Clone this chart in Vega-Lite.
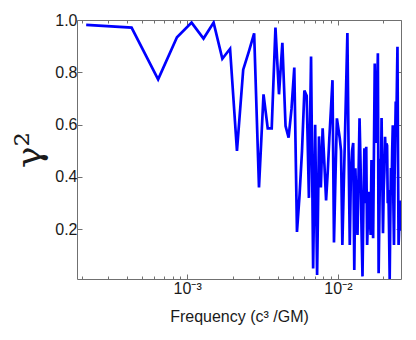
{
  "$schema": "https://vega.github.io/schema/vega-lite/v6.json",
  "width": 324,
  "height": 259,
  "autosize": "none",
  "padding": {"left": 77, "top": 20, "right": 15, "bottom": 61},
  "background": "white",
  "config": {
    "view": {"stroke": null},
    "axis": {
      "labelFont": "Liberation Sans",
      "titleFont": "Liberation Sans",
      "labelColor": "#1a1a1a",
      "titleColor": "#1a1a1a",
      "domainColor": "#707070",
      "tickColor": "#707070",
      "grid": false
    }
  },
  "data": {
    "values": [
      {"f": 0.000214, "g": 0.981}, {"f": 0.000428, "g": 0.971}, {"f": 0.000642, "g": 0.773},
      {"f": 0.000856, "g": 0.934}, {"f": 0.00107, "g": 0.99}, {"f": 0.001284, "g": 0.929},
      {"f": 0.001498, "g": 0.99}, {"f": 0.001712, "g": 0.852}, {"f": 0.001926, "g": 0.89},
      {"f": 0.00214, "g": 0.5}, {"f": 0.002354, "g": 0.81}, {"f": 0.002568, "g": 0.88},
      {"f": 0.002782, "g": 0.949}, {"f": 0.002996, "g": 0.36}, {"f": 0.00321, "g": 0.716},
      {"f": 0.003424, "g": 0.586}, {"f": 0.003638, "g": 0.586}, {"f": 0.003852, "g": 0.971},
      {"f": 0.004066, "g": 0.716}, {"f": 0.00428, "g": 0.913}, {"f": 0.004494, "g": 0.595},
      {"f": 0.004708, "g": 0.55}, {"f": 0.004922, "g": 0.66}, {"f": 0.005136, "g": 0.818},
      {"f": 0.00535, "g": 0.19}, {"f": 0.005564, "g": 0.33}, {"f": 0.005778, "g": 0.5},
      {"f": 0.005992, "g": 0.73}, {"f": 0.006206, "g": 0.71}, {"f": 0.00642, "g": 0.32},
      {"f": 0.006634, "g": 0.86}, {"f": 0.006848, "g": 0.05}, {"f": 0.007062, "g": 0.6},
      {"f": 0.007276, "g": 0.025}, {"f": 0.00749, "g": 0.555}, {"f": 0.007704, "g": 0.36},
      {"f": 0.007918, "g": 0.586}, {"f": 0.008132, "g": 0.45}, {"f": 0.008346, "g": 0.31},
      {"f": 0.00856, "g": 0.42}, {"f": 0.008774, "g": 0.55}, {"f": 0.008988, "g": 0.66},
      {"f": 0.009202, "g": 0.77}, {"f": 0.009416, "g": 0.15}, {"f": 0.00963, "g": 0.4},
      {"f": 0.009844, "g": 0.624}, {"f": 0.010058, "g": 0.586}, {"f": 0.010272, "g": 0.55},
      {"f": 0.010486, "g": 0.5}, {"f": 0.0107, "g": 0.14}, {"f": 0.010914, "g": 0.35},
      {"f": 0.011128, "g": 0.55}, {"f": 0.011342, "g": 0.75}, {"f": 0.011556, "g": 0.95},
      {"f": 0.01177, "g": 0.5}, {"f": 0.011984, "g": 0.14}, {"f": 0.012198, "g": 0.42},
      {"f": 0.012412, "g": 0.5}, {"f": 0.012626, "g": 0.53}, {"f": 0.01284, "g": 0.044},
      {"f": 0.013054, "g": 0.433}, {"f": 0.013268, "g": 0.3}, {"f": 0.013482, "g": 0.178},
      {"f": 0.013696, "g": 0.4}, {"f": 0.01391, "g": 0.624}, {"f": 0.014124, "g": 0.45},
      {"f": 0.014338, "g": 0.2}, {"f": 0.014552, "g": 0.02}, {"f": 0.014766, "g": 0.3},
      {"f": 0.01498, "g": 0.51}, {"f": 0.015194, "g": 0.3}, {"f": 0.015408, "g": 0.515},
      {"f": 0.015622, "g": 0.14}, {"f": 0.015836, "g": 0.25}, {"f": 0.01605, "g": 0.343},
      {"f": 0.016264, "g": 0.26}, {"f": 0.016478, "g": 0.178}, {"f": 0.016692, "g": 0.465},
      {"f": 0.016906, "g": 0.3}, {"f": 0.01712, "g": 0.166}, {"f": 0.017334, "g": 0.5},
      {"f": 0.017548, "g": 0.834}, {"f": 0.017762, "g": 0.6}, {"f": 0.017976, "g": 0.53},
      {"f": 0.01819, "g": 0.7}, {"f": 0.018404, "g": 0.873}, {"f": 0.018618, "g": 0.032},
      {"f": 0.018832, "g": 0.25}, {"f": 0.019046, "g": 0.47}, {"f": 0.01926, "g": 0.35},
      {"f": 0.019474, "g": 0.625}, {"f": 0.019688, "g": 0.4}, {"f": 0.019902, "g": 0.185},
      {"f": 0.020116, "g": 0.35}, {"f": 0.02033, "g": 0.42}, {"f": 0.020544, "g": 0.554},
      {"f": 0.020758, "g": 0.48}, {"f": 0.020972, "g": 0.528}, {"f": 0.021186, "g": 0.52},
      {"f": 0.0214, "g": 0.3}, {"f": 0.021614, "g": 0.35}, {"f": 0.021828, "g": 0.2},
      {"f": 0.022042, "g": 0.01}, {"f": 0.022256, "g": 0.25}, {"f": 0.02247, "g": 0.434},
      {"f": 0.022684, "g": 0.35}, {"f": 0.022898, "g": 0.5}, {"f": 0.023112, "g": 0.598},
      {"f": 0.023326, "g": 0.3}, {"f": 0.02354, "g": 0.14}, {"f": 0.023754, "g": 0.4},
      {"f": 0.023968, "g": 0.55}, {"f": 0.024182, "g": 0.688}, {"f": 0.024396, "g": 0.6},
      {"f": 0.02461, "g": 0.75}, {"f": 0.024824, "g": 0.898}, {"f": 0.025038, "g": 0.45},
      {"f": 0.025252, "g": 0.14}, {"f": 0.025466, "g": 0.2}, {"f": 0.02568, "g": 0.2},
      {"f": 0.025894, "g": 0.31}
    ]
  },
  "layer": [
    {
      "mark": {"type": "line", "color": "#0000ff", "strokeWidth": 2.7, "clip": true},
      "encoding": {
        "x": {
          "field": "f", "type": "quantitative",
          "scale": {"type": "log", "domain": [0.000186, 0.0262], "nice": false},
          "axis": {
            "orient": "bottom", "values": [0.001, 0.01], "tickSize": -5,
            "labelExpr": "datum.value < 0.005 ? '10⁻³' : '10⁻²'",
            "labelFontSize": 16, "labelPadding": 6,
            "title": "Frequency (c³ /GM)", "titleFontSize": 16, "titleFontWeight": "normal", "titlePadding": 12
          }
        },
        "y": {
          "field": "g", "type": "quantitative",
          "scale": {"domain": [0.01, 1], "nice": false, "zero": false},
          "axis": {
            "orient": "left", "values": [0.2, 0.4, 0.6, 0.8, 1.0], "format": ".1f", "tickSize": -5,
            "labelFontSize": 16, "labelPadding": 5,
            "title": "γ²", "titleFont": "DejaVu Serif", "titleFontSize": 36, "titleFontWeight": "normal", "titlePadding": 6
          }
        }
      }
    },
    {
      "mark": {"type": "line", "opacity": 0},
      "encoding": {
        "x": {"field": "f", "type": "quantitative",
          "axis": {"orient": "top", "values": [0.001, 0.01], "tickSize": -5, "labels": false, "title": null}},
        "y": {"field": "g", "type": "quantitative",
          "axis": {"orient": "right", "values": [0.2, 0.4, 0.6, 0.8, 1.0], "tickSize": -5, "labels": false, "title": null}}
      }
    },
    {
      "mark": {"type": "line", "opacity": 0},
      "encoding": {
        "x": {"field": "f", "type": "quantitative",
          "axis": {"orient": "bottom", "domain": false, "values": [0.0002, 0.0003, 0.0004, 0.0005, 0.0006, 0.0007, 0.0008, 0.0009, 0.002, 0.003, 0.004, 0.005, 0.006, 0.007, 0.008, 0.009, 0.02], "tickSize": -3, "labels": false, "title": null}}
      }
    },
    {
      "mark": {"type": "line", "opacity": 0},
      "encoding": {
        "x": {"field": "f", "type": "quantitative",
          "axis": {"orient": "top", "domain": false, "values": [0.0002, 0.0003, 0.0004, 0.0005, 0.0006, 0.0007, 0.0008, 0.0009, 0.002, 0.003, 0.004, 0.005, 0.006, 0.007, 0.008, 0.009, 0.02], "tickSize": -3, "labels": false, "title": null}}
      }
    }
  ],
  "resolve": {"axis": {"x": "independent", "y": "independent"}}
}
